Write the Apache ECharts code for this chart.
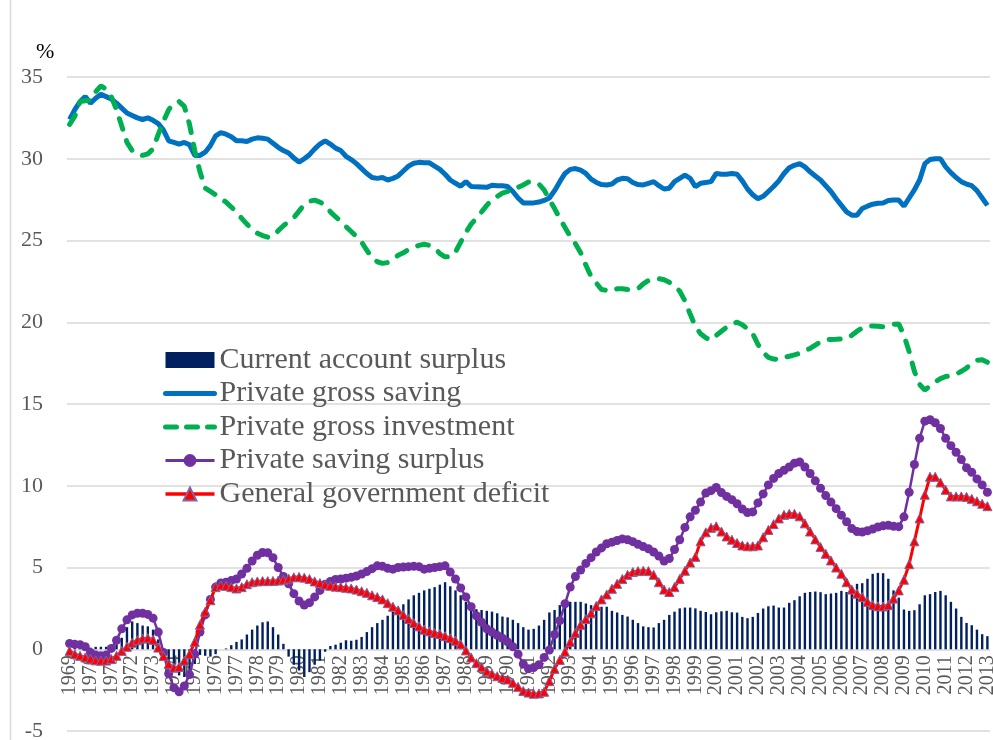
<!DOCTYPE html>
<html>
<head>
<meta charset="utf-8">
<script src="https://cdn.jsdelivr.net/npm/echarts/dist/echarts.min.js"></script>
<style>
  html, body { margin: 0; padding: 0; background: #fff; }
  #chart { width: 993px; height: 740px; }
</style>
</head>
<body>
<div id="chart"></div>
<script>
  // quarterly, 1969Q1 .. 2013Q1
  var firstYear = 1969, lastYear = 2013;
  var quarters = [];
  for (var y = firstYear; y <= lastYear; y++) {
    for (var q = 1; q <= 4; q++) {
      if (y == lastYear && q > 1) break;
      quarters.push(y + 'Q' + q);
    }
  }

  var yTicks = [-5, 0, 5, 10, 15, 20, 25, 30, 35];

  var currentAccount = [
    0.1, 0.1, 0.05, 0.1, 0.1, 0.15, 0.15, 0.15, 0.15, 0.3,
    0.7, 1.35, 1.7, 1.6, 1.45, 1.4, 1.2, 0.6, -0.5, -1.05,
    -1.3, -1.6, -1.7, -1.4, -0.9, -0.35, -0.4, -0.45, -0.3, 0.0,
    0.05, 0.25, 0.45, 0.6, 0.9, 1.2, 1.45, 1.65, 1.7, 1.35,
    0.9, 0.33, -0.45, -0.95, -1.3, -1.7, -1.4, -0.95, -0.7, -0.15,
    0.2, 0.28, 0.4, 0.55, 0.52, 0.58, 0.75, 1.05, 1.35, 1.6,
    1.8, 2.05, 2.3, 2.55, 2.75, 3.05, 3.3, 3.45, 3.6, 3.7,
    3.8, 3.95, 4.1, 3.85, 3.6, 3.3, 2.9, 2.5, 2.45, 2.4,
    2.35, 2.3, 2.2, 2.0, 1.95, 1.8, 1.6, 1.35, 1.2, 1.25,
    1.45, 1.8, 2.25, 2.4, 2.7, 2.9, 2.9, 2.9, 2.9, 2.8,
    2.7, 2.8, 2.6, 2.6, 2.35, 2.25, 2.1, 2.0, 1.8, 1.6,
    1.4, 1.35, 1.33, 1.6, 1.8, 2.1, 2.3, 2.5, 2.55, 2.55,
    2.5, 2.35, 2.28, 2.14, 2.26, 2.32, 2.35, 2.26, 2.24, 1.98,
    1.9, 1.98, 2.22, 2.49, 2.63, 2.67, 2.55, 2.55, 2.84, 3.0,
    3.24, 3.45, 3.5, 3.53, 3.49, 3.37, 3.41, 3.45, 3.57, 3.5,
    3.74, 4.0, 4.04, 4.31, 4.61, 4.67, 4.65, 4.31, 3.6, 3.16,
    2.43, 2.35, 2.39, 2.75, 3.3, 3.37, 3.5, 3.57, 3.3, 2.9,
    2.49, 1.98, 1.61, 1.47, 1.2, 0.92, 0.8
  ];

  var grossSaving = [
    32.4, 33.0, 33.5, 33.8, 33.4, 33.7, 33.95, 33.8, 33.65, 33.4,
    33.1, 32.8, 32.65, 32.5, 32.4, 32.5, 32.35, 32.15, 31.75, 31.1,
    31.0, 30.9, 31.0, 30.85, 30.2, 30.2, 30.4, 30.8, 31.4, 31.6,
    31.5, 31.35, 31.1, 31.1, 31.05, 31.2, 31.28, 31.25, 31.2, 30.95,
    30.7, 30.5, 30.35, 30.05, 29.8, 30.0, 30.25, 30.6, 30.9, 31.1,
    30.9, 30.65, 30.5, 30.15, 29.95, 29.7, 29.4, 29.1, 28.85, 28.8,
    28.85, 28.7, 28.8, 28.95, 29.25, 29.55, 29.72, 29.78, 29.75, 29.75,
    29.55, 29.35, 29.05, 28.7, 28.5, 28.32, 28.6, 28.3, 28.28, 28.27,
    28.25, 28.38, 28.35, 28.35, 28.3, 28.0, 27.6, 27.3, 27.3, 27.3,
    27.35, 27.45, 27.6, 28.05, 28.6, 29.1, 29.35, 29.4, 29.3, 29.1,
    28.75, 28.55, 28.42, 28.4, 28.45, 28.7, 28.8, 28.78, 28.55, 28.42,
    28.4, 28.5, 28.6, 28.35, 28.15, 28.2, 28.6, 28.8, 29.0, 28.8,
    28.3, 28.5, 28.55, 28.6, 29.1, 29.05, 29.05, 29.1, 29.05, 28.65,
    28.15, 27.8, 27.55, 27.7, 28.0, 28.3, 28.65, 29.1, 29.45, 29.6,
    29.7, 29.5, 29.2, 28.95, 28.7, 28.35, 28.0, 27.55, 27.15, 26.75,
    26.55, 26.55, 26.96, 27.1, 27.22, 27.28, 27.3, 27.45, 27.47, 27.47,
    27.1, 27.6, 28.1, 28.7, 29.7, 29.95, 30.0, 30.0, 29.5, 29.15,
    28.85, 28.6, 28.45, 28.35, 28.05, 27.6, 27.15
  ];

  var grossInvestment = [
    32.1, 32.6, 33.5, 33.55, 33.6, 34.1, 34.45, 34.25, 33.8, 33.0,
    32.0, 31.0, 30.5, 30.3, 30.2, 30.3, 30.6, 31.5, 32.3, 33.0,
    33.4, 33.5, 33.2, 32.1, 30.5, 29.2, 28.2, 28.0, 27.8, 27.55,
    27.35, 27.05, 26.75, 26.35, 26.0, 25.7, 25.45, 25.3, 25.2, 25.25,
    25.6, 25.9, 26.15, 26.4, 26.8, 27.2, 27.4, 27.47, 27.35, 27.15,
    26.75, 26.45, 26.2, 25.85, 25.55, 25.25, 24.9, 24.4, 23.95, 23.7,
    23.6, 23.65, 23.85, 24.1, 24.25, 24.45, 24.6, 24.7, 24.77, 24.7,
    24.55, 24.2, 24.0, 24.0, 24.3, 24.9, 25.5, 26.0, 26.35, 26.75,
    27.15, 27.5, 27.7, 27.9, 28.0, 28.15, 28.25, 28.4, 28.58, 28.6,
    28.45, 28.1, 27.5, 26.95, 26.35, 25.8, 25.25, 24.8, 24.25, 23.5,
    22.8, 22.4, 22.0, 21.95, 21.9, 22.05, 22.05, 22.0, 22.0, 22.05,
    22.35, 22.55, 22.65, 22.67, 22.6, 22.45, 22.2, 21.9, 21.3, 20.5,
    19.75, 19.3, 19.05, 18.9, 19.2, 19.45, 19.7, 19.9, 20.0, 19.85,
    19.6, 19.3, 18.65, 18.15, 17.85, 17.75, 17.72, 17.85, 17.92, 18.0,
    18.1, 18.25, 18.4, 18.6, 18.8, 18.92, 18.95, 18.96, 18.98, 19.0,
    19.2, 19.45, 19.65, 19.75, 19.77, 19.75, 19.72, 19.8, 19.88, 19.9,
    19.2, 18.2, 17.0, 16.2, 15.85, 16.1, 16.35, 16.55, 16.68, 16.72,
    16.82, 17.0, 17.2, 17.47, 17.68, 17.7, 17.55
  ];

  var savingSurplus = [
    0.35, 0.3, 0.28, 0.15, -0.2, -0.35, -0.4, -0.35, 0.05, 0.55,
    1.25, 1.8, 2.1, 2.2, 2.2, 2.13, 1.9, 1.05, -0.2, -1.5,
    -2.35, -2.6, -2.25, -1.55, -0.3, 1.05, 2.1, 3.05, 3.8, 4.05,
    4.1, 4.2, 4.3, 4.6, 4.95, 5.4, 5.75, 5.92, 5.9, 5.6,
    5.0, 4.45, 4.0, 3.4, 2.95, 2.7, 2.85, 3.2, 3.6, 3.97,
    4.15, 4.27, 4.3, 4.35, 4.4, 4.48, 4.6, 4.75, 4.93, 5.1,
    5.07, 4.95, 4.9, 5.0, 5.03, 5.05, 5.07, 5.05, 4.9, 4.95,
    5.0, 5.05, 5.1, 4.72, 4.3, 3.75, 3.2, 2.6, 2.05, 1.65,
    1.25, 1.05, 0.85, 0.67, 0.45, 0.15, -0.3, -0.9, -1.2, -1.12,
    -0.95, -0.5, -0.05, 0.9, 1.75, 2.78, 3.8, 4.45, 4.85, 5.25,
    5.6, 5.95, 6.2, 6.45, 6.55, 6.65, 6.75, 6.7, 6.58, 6.42,
    6.28, 6.15, 5.95, 5.7, 5.4, 5.55, 6.1, 6.7, 7.45, 8.1,
    8.5, 9.0, 9.55, 9.7, 9.9, 9.58, 9.35, 9.15, 8.9, 8.58,
    8.36, 8.4, 8.95, 9.5, 10.05, 10.45, 10.75, 10.95, 11.15, 11.38,
    11.45, 11.15, 10.75, 10.3, 9.85, 9.4, 9.0, 8.6, 8.2, 7.8,
    7.38, 7.2, 7.17, 7.25, 7.35, 7.48, 7.55, 7.58, 7.52, 7.5,
    8.1, 9.6, 11.3, 12.9, 13.95, 14.04, 13.85, 13.5, 12.9, 12.45,
    12.05, 11.6, 11.1, 10.82, 10.42, 10.05, 9.6
  ];

  var govDeficit = [
    -0.1, -0.3, -0.4, -0.5, -0.58, -0.68, -0.7, -0.69, -0.6, -0.4,
    -0.1, 0.15, 0.4, 0.55, 0.65, 0.68, 0.58, 0.1, -0.42, -0.9,
    -1.13, -1.08, -0.7, -0.3, 0.45, 1.5, 2.3, 3.0, 3.8, 3.9,
    3.88, 3.8, 3.72, 3.8, 3.98, 4.1, 4.15, 4.17, 4.17, 4.18,
    4.2, 4.25, 4.32, 4.4, 4.42, 4.38, 4.3, 4.15, 4.05, 3.95,
    3.88, 3.83, 3.8, 3.76, 3.72, 3.65, 3.55, 3.45, 3.3, 3.19,
    3.05, 2.82, 2.6, 2.38, 2.1, 1.85, 1.6, 1.4, 1.2, 1.1,
    1.0, 0.93, 0.8, 0.68, 0.52, 0.3, -0.07, -0.5, -0.85, -1.1,
    -1.35, -1.5, -1.65, -1.75, -1.85, -2.05, -2.3, -2.55, -2.65, -2.72,
    -2.7, -2.6, -1.95, -1.2, -0.65, -0.15, 0.45, 1.0, 1.5, 1.85,
    2.2, 2.65, 3.05, 3.35, 3.7, 4.0, 4.3, 4.55, 4.72, 4.78,
    4.8, 4.78, 4.55, 4.1, 3.65, 3.5, 3.8, 4.3, 4.8, 5.3,
    5.65, 6.6, 7.15, 7.43, 7.52, 7.2, 6.9, 6.7, 6.5, 6.35,
    6.3, 6.3, 6.35, 6.85, 7.3, 7.65, 8.0, 8.22, 8.28, 8.28,
    8.13, 7.7, 7.2, 6.72, 6.25, 5.84, 5.43, 5.0, 4.62, 4.1,
    3.65, 3.4, 3.19, 2.9, 2.7, 2.63, 2.62, 2.7, 3.1, 3.6,
    4.25, 5.2, 6.6, 8.0, 9.45, 10.55, 10.55, 10.2, 9.75, 9.35,
    9.35, 9.35, 9.32, 9.2, 9.05, 8.9, 8.75
  ];

  var serif = '"Liberation Serif", "Times New Roman", serif';
  var yMin = yTicks[0], yMax = yTicks[yTicks.length - 1];
  // plot area: top 77 .. bottom 731; zero line sits at 77 + 654 * 35/40
  var plotTop = 77, plotBottom = 9;
  var zeroY = plotTop + (740 - plotTop - plotBottom) * yMax / (yMax - yMin);

  var myChart = echarts.init(document.getElementById('chart'), null, {renderer: 'canvas'});
  var option = {
    animation: false,
    backgroundColor: '#fff',
    textStyle: {fontFamily: serif},
    title: {
      text: '%',
      left: 31,
      top: 36,
      textStyle: {fontFamily: serif, fontSize: 22, fontWeight: 'normal', color: '#000'}
    },
    graphic: [{
      type: 'line',
      shape: {x1: 10.5, y1: 0, x2: 10.5, y2: 740},
      style: {stroke: '#D9D9D9', lineWidth: 1.5},
      silent: true
    }],
    legend: {
      orient: 'vertical',
      left: 163,
      top: 345,
      padding: 0,
      itemWidth: 49,
      itemHeight: 16,
      itemGap: 3.5,
      textStyle: {fontFamily: serif, fontSize: 30, color: '#595959', lineHeight: 26},
      data: [
        {name: 'Current account surplus', icon: 'rect'},
        {name: 'Private gross saving', itemStyle: {opacity: 0},
         lineStyle: {width: 5, cap: 'round'}},
        {name: 'Private gross investment', itemStyle: {opacity: 0},
         lineStyle: {width: 5, type: [11, 10], cap: 'round'}},
        {name: 'Private saving surplus', lineStyle: {width: 3}},
        {name: 'General government deficit', lineStyle: {width: 3.5}}
      ]
    },
    grid: [
      {left: 67, right: 3, top: plotTop, bottom: plotBottom, containLabel: false, outerBoundsMode: 'none'},
      // second grid only carries the year labels, its bottom edge is the zero line
      {left: 67, right: 3, top: plotTop, bottom: 740 - zeroY, containLabel: false, outerBoundsMode: 'none'}
    ],
    xAxis: [
      {
        type: 'category',
        gridIndex: 0,
        data: quarters,
        boundaryGap: true,
        axisLine: {show: false},
        axisTick: {show: false},
        axisLabel: {show: false},
        splitLine: {show: false}
      },
      {
        type: 'category',
        gridIndex: 1,
        data: quarters,
        boundaryGap: true,
        z: 0,
        axisLine: {show: false},
        axisTick: {show: false},
        axisLabel: {
          interval: 3,
          rotate: 90,
          margin: 6,
          fontFamily: serif,
          fontSize: 20,
          color: '#595959',
          formatter: function (v) { return v.slice(0, 4); }
        },
        splitLine: {show: false}
      }
    ],
    yAxis: [
      {
        type: 'value',
        gridIndex: 0,
        min: yMin,
        max: yMax,
        interval: 5,
        axisLine: {show: false},
        axisTick: {show: false},
        axisLabel: {fontFamily: serif, fontSize: 22, color: '#595959', margin: 24},
        splitLine: {lineStyle: {color: '#D9D9D9', width: 1.5}}
      },
      {
        type: 'value',
        gridIndex: 1,
        min: 0,
        max: 1,
        show: false
      }
    ],
    series: [
      {
        name: 'Current account surplus',
        type: 'bar',
        data: currentAccount,
        barWidth: 2.4,
        itemStyle: {color: '#002060'},
        z: 2
      },
      {
        name: 'Private gross saving',
        type: 'line',
        data: grossSaving,
        symbol: 'none',
        lineStyle: {color: '#0070C0', width: 5},
        itemStyle: {color: '#0070C0'},
        z: 3
      },
      {
        name: 'Private gross investment',
        type: 'line',
        data: grossInvestment,
        symbol: 'none',
        lineStyle: {color: '#00B050', width: 5, type: [11, 12], cap: 'round'},
        itemStyle: {color: '#00B050'},
        z: 4
      },
      {
        name: 'Private saving surplus',
        type: 'line',
        data: savingSurplus,
        symbol: 'circle',
        symbolSize: 9,
        showAllSymbol: true,
        lineStyle: {color: '#7030A0', width: 2.5},
        itemStyle: {color: '#7030A0'},
        z: 5
      },
      {
        name: 'General government deficit',
        type: 'line',
        data: govDeficit,
        symbol: 'triangle',
        symbolSize: 9,
        showAllSymbol: true,
        lineStyle: {color: '#FF0000', width: 3},
        itemStyle: {color: '#FF0000', borderColor: '#8064A2', borderWidth: 1},
        z: 6
      }
    ]
  };
  myChart.setOption(option);
</script>
</body>
</html>
